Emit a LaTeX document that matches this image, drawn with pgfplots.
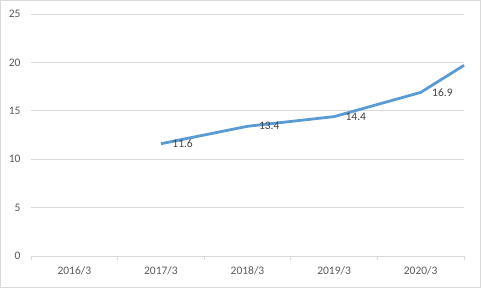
\documentclass[border=0pt]{standalone}
\usepackage{pgfplots}
\pgfplotsset{compat=1.18}
\usepackage{fontspec}
\setmainfont{Carlito}
\definecolor{linec}{HTML}{5B9BD5}
\definecolor{gridc}{HTML}{D9D9D9}
\definecolor{txt}{HTML}{595959}
\definecolor{lbl}{HTML}{404040}
\begin{document}
\begin{tikzpicture}
\useasboundingbox (0,0) rectangle (481bp,288bp);
\draw[gridc, line width=0.75bp] (0.5bp,0.5bp) rectangle (480.5bp,287.5bp);
\begin{axis}[
  at={(31bp,32bp)}, anchor=south west,
  scale only axis, width=433bp, height=242bp,
  xmin=0.5, xmax=5.5, ymin=0, ymax=25,
  axis x line*=bottom,
  axis y line*=left,
  y axis line style={draw=none},
  x axis line style={gridc, line width=0.75bp, -},
  xtick={1,2,3,4,5},
  xticklabels={2016/3,2017/3,2018/3,2019/3,2020/3},
  minor xtick={0.5,1.5,2.5,3.5,4.5,5.5},
  major tick length=0pt,
  minor tick length=4bp,
  tick align=outside,
  minor tick style={gridc, line width=0.75bp},
  ytick={0,5,10,15,20,25},
  ymajorgrids,
  grid style={gridc, line width=0.75bp},
  /pgf/number format/assume math mode=true,
  ticklabel style={font=\fontsize{11.5bp}{13bp}\selectfont, text=txt},
  xticklabel style={yshift=-7bp},
  yticklabel style={anchor=east, xshift=-7bp},
  clip=false,
]
\addplot[linec, line width=2.8bp, line join=round, line cap=butt] coordinates {
  (2,11.6) (3,13.4) (4,14.4) (5,16.9) (5.5,19.7)
};
\addplot[draw=none, nodes near coords, point meta=explicit symbolic,
  every node near coord/.style={anchor=west, xshift=8bp, yshift=0bp, text=lbl, font=\fontsize{11.5bp}{13bp}\selectfont}]
  coordinates {
  (2,11.6) [11.6] (3,13.4) [13.4] (4,14.4) [14.4] (5,16.9) [16.9]
};
\end{axis}
\end{tikzpicture}
\end{document}
